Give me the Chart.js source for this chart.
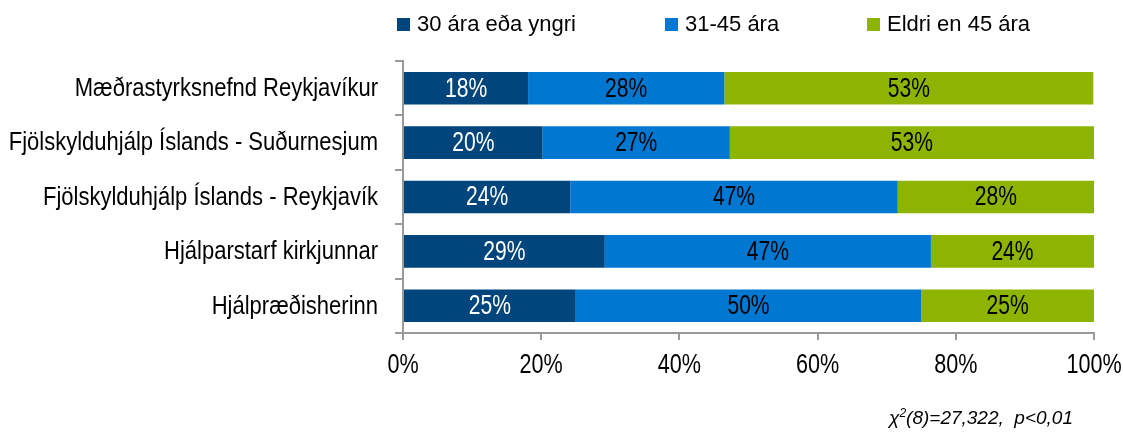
<!DOCTYPE html>
<html>
<head>
<meta charset="utf-8">
<script src="https://cdn.jsdelivr.net/npm/chart.js@4.4.1/dist/chart.umd.min.js"></script>
<style>
  html, body { margin: 0; padding: 0; background: #fff; }
  #wrap { position: relative; width: 1123px; height: 432px; overflow: hidden; }
  canvas { position: absolute; left: 0; top: 0; }
  .leg { position: absolute; top: 8px; height: 32px; display: flex; align-items: center;
         font-family: 'Liberation Sans', Arial, sans-serif; font-size: 22px; color: #000; white-space: nowrap; }
  .leg span.box { display: inline-block; width: 13px; height: 13px; margin-right: 7px; }
  #note { position: absolute; left: 889px; top: 406px; font-family: 'Liberation Sans', Arial, sans-serif;
          font-style: italic; font-size: 19px; color: #000; white-space: nowrap; }
  #note sup { font-size: 12px; }
</style>
</head>
<body>
<div id="wrap">
  <canvas id="c" width="1123" height="432"></canvas>
  <div id="legend"></div>
  <div id="note">χ<sup>2</sup>(8)=27,322,&nbsp; p&lt;0,01</div>
</div>
<script>
const categories = [
  'Mæðrastyrksnefnd Reykjavíkur',
  'Fjölskylduhjálp Íslands - Suðurnesjum',
  'Fjölskylduhjálp Íslands - Reykjavík',
  'Hjálparstarf kirkjunnar',
  'Hjálpræðisherinn'
];
const seriesNames = ['30 ára eða yngri', '31-45 ára', 'Eldri en 45 ára'];
const young  = [18.1, 20.2, 24.2, 29.2, 25.0];
const middle = [28.4, 27.1, 47.4, 47.2, 50.0];
const older  = [53.4, 52.7, 28.4, 23.6, 25.0];
const xTickStep = 20;

const colors = ['#00467C', '#0078D2', '#8CB400'];
const labelColors = ['#ffffff', '#000000', '#000000'];
const FONT = "'Liberation Sans', Arial, sans-serif";

// HTML legend
const legendLeft = [397, 665, 867];
const legendEl = document.getElementById('legend');
seriesNames.forEach((name, i) => {
  const d = document.createElement('div');
  d.className = 'leg';
  d.style.left = legendLeft[i] + 'px';
  d.innerHTML = '<span class="box" style="background:' + colors[i] + '"></span>' + name;
  legendEl.appendChild(d);
});

function narrowText(ctx, text, x, y, sx) {
  ctx.save();
  ctx.translate(x, y);
  ctx.scale(sx, 1);
  ctx.fillText(text, 0, 0);
  ctx.restore();
}

const textPlugin = {
  id: 'textPlugin',
  afterDatasetsDraw(chart) {
    const ctx = chart.ctx;
    ctx.save();
    ctx.font = '27px ' + FONT;
    ctx.textAlign = 'center';
    ctx.textBaseline = 'middle';
    chart.data.datasets.forEach((ds, di) => {
      const meta = chart.getDatasetMeta(di);
      ctx.fillStyle = labelColors[di];
      meta.data.forEach((el, i) => {
        const cx = (el.x + el.base) / 2;
        narrowText(ctx, Math.round(ds.data[i]) + '%', cx, el.y + 1, 0.78);
      });
    });
    ctx.restore();
  },
  afterDraw(chart) {
    const ctx = chart.ctx;
    const sx = chart.scales.x;
    const sy = chart.scales.y;
    ctx.save();
    ctx.fillStyle = '#000';
    ctx.textBaseline = 'middle';
    ctx.font = '27px ' + FONT;
    ctx.textAlign = 'center';
    sx.ticks.forEach(t => {
      narrowText(ctx, t.value + '%', sx.getPixelForValue(t.value), sx.top + 33, 0.8);
    });
    ctx.font = '25px ' + FONT;
    ctx.textAlign = 'right';
    chart.data.labels.forEach((lab, i) => {
      narrowText(ctx, lab, sy.right - 25, sy.getPixelForValue(i) + 1, 0.88);
    });
    ctx.restore();
  }
};

new Chart(document.getElementById('c'), {
  type: 'bar',
  data: {
    labels: categories,
    datasets: [
      { label: seriesNames[0], data: young,  backgroundColor: colors[0] },
      { label: seriesNames[1], data: middle, backgroundColor: colors[1] },
      { label: seriesNames[2], data: older,  backgroundColor: colors[2] }
    ]
  },
  options: {
    indexAxis: 'y',
    responsive: false,
    animation: false,
    devicePixelRatio: 1,
    datasets: { bar: { barPercentage: 0.6, categoryPercentage: 1.0, borderWidth: 0 } },
    layout: { padding: { top: 61, right: 29, left: 0, bottom: 0 } },
    plugins: { legend: { display: false }, tooltip: { enabled: false } },
    scales: {
      x: {
        stacked: true, min: 0, max: 100,
        ticks: { stepSize: xTickStep, display: false },
        grid: { drawOnChartArea: false, drawTicks: true, tickLength: 7, color: '#9a9a9a', lineWidth: 2 },
        border: { color: '#9a9a9a', width: 2 },
        afterFit: s => { s.height = 99; }
      },
      y: {
        stacked: true,
        ticks: { display: false },
        grid: { drawOnChartArea: false, drawTicks: true, tickLength: 8, color: '#9a9a9a', lineWidth: 2, offset: true },
        border: { color: '#9a9a9a', width: 2 },
        afterFit: s => { s.width = 403; }
      }
    }
  },
  plugins: [textPlugin]
});
</script>
</body>
</html>
